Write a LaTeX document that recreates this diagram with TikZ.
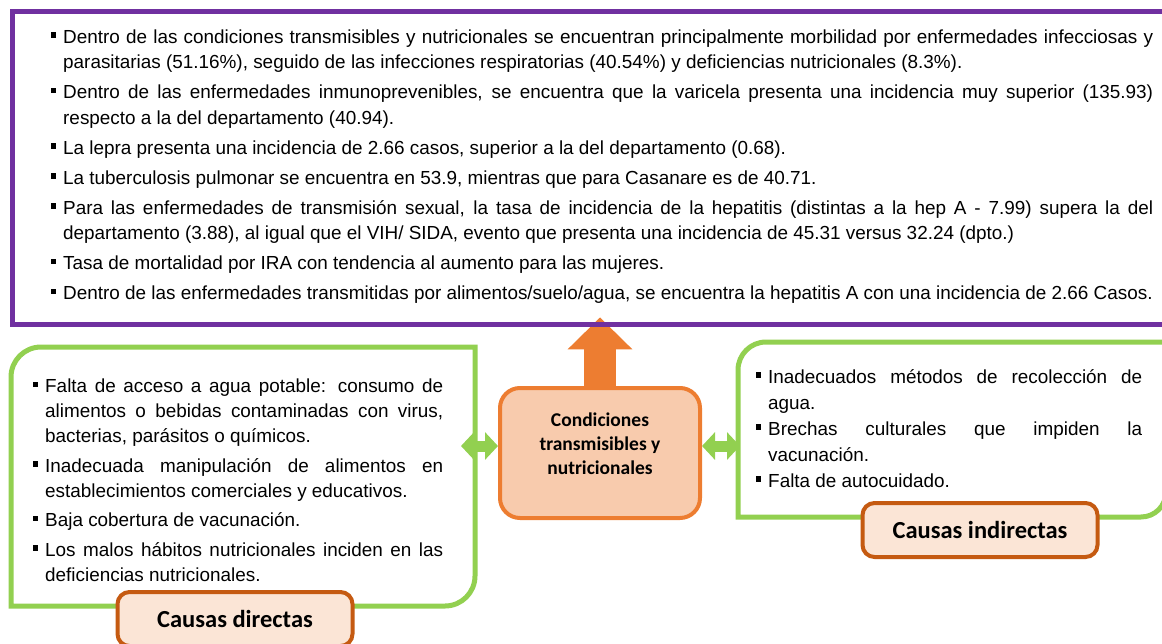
\documentclass[tikz,border=0pt]{standalone}
\usepackage{fontspec}
\setmainfont{Liberation Sans}
\newfontfamily\calibri{Carlito}
\usetikzlibrary{arrows.meta}
\definecolor{morado}{HTML}{7030A0}
\definecolor{verde}{HTML}{92D050}
\definecolor{naranja}{HTML}{ED7D31}
\definecolor{durazno}{HTML}{F8CBAD}
\definecolor{crema}{HTML}{FBE5D6}
\definecolor{ladrillo}{HTML}{C55A11}
\newcommand{\vineta}{\par\noindent\llap{\rule[5.5pt]{5.5pt}{5.5pt}\hspace{7pt}}}
\tikzset{
  texto/.style={anchor=north west, inner sep=0pt, align=justify,
    font=\fontsize{18.9}{25.5}\selectfont,
    execute at begin node={\setlength{\parskip}{4.5pt}\tolerance=9999}},
  etiqueta/.style={draw=ladrillo, line width=4pt, fill=crema, rounded corners=12pt,
    minimum width=235pt, minimum height=54pt,
    font=\calibri\bfseries\fontsize{24.5}{28}\selectfont},
  marco/.style={draw=verde, line width=5pt},
  flechaverde/.style={verde, line width=11pt,
    {Triangle[width=27pt,length=13pt]}-{Triangle[width=27pt,length=13pt]}},
}
\begin{document}
\begin{tikzpicture}[x=1pt,y=1pt]
\useasboundingbox (0,0) rectangle (1162,-643);
\clip (0,0) rectangle (1162,-643);
% recuadro superior
\node[minimum width=1175pt, minimum height=313pt, anchor=north west]
  (hallazgos) at (12,-11) {};
\node[texto, text width=1090pt] (hallazgostxt) at (63,-13) {%
\vineta Dentro de las condiciones transmisibles y nutricionales se encuentran principalmente morbilidad por enfermedades infecciosas y \linebreak parasitarias (51.16\%), seguido de las infecciones respiratorias (40.54\%) y deficiencias nutricionales (8.3\%).
\vineta Dentro de las enfermedades inmunoprevenibles, se encuentra que la varicela presenta una incidencia muy superior (135.93) \linebreak respecto a la del departamento (40.94).
\vineta La lepra presenta una incidencia de 2.66 casos, superior a la del departamento (0.68).
\vineta La tuberculosis pulmonar se encuentra en 53.9, mientras que para Casanare es de 40.71.
\vineta Para las enfermedades de transmisión sexual, la tasa de incidencia de la hepatitis (distintas a la hep A - 7.99) supera la del \linebreak departamento (3.88), al igual que el VIH/ SIDA, evento que presenta una incidencia de 45.31 versus 32.24 (dpto.)
\vineta Tasa de mortalidad por IRA con tendencia al aumento para las mujeres.
\vineta Dentro de las enfermedades transmitidas por alimentos/suelo/agua, se encuentra la hepatitis A con una incidencia de 2.66 Casos.};
% causas directas
\draw[marco] (11,-606) -- (11,-377) arc[start angle=180,end angle=90,radius=30pt]
  -- (475,-347) -- (475,-576) arc[start angle=0,end angle=-90,radius=30pt] -- cycle;
\node[texto, text width=398pt, font=\fontsize{18.9}{25}\selectfont]
  (directastxt) at (45,-363) {%
\vineta Falta de acceso a agua potable: consumo de \linebreak alimentos o bebidas contaminadas con virus, \linebreak bacterias, parásitos o químicos.
\vineta Inadecuada manipulación de alimentos en \linebreak establecimientos comerciales y educativos.
\vineta Baja cobertura de vacunación.
\vineta Los malos hábitos nutricionales inciden en las \linebreak deficiencias nutricionales.};
% causas indirectas
\draw[marco] (738,-517) -- (738,-370) arc[start angle=180,end angle=90,radius=28pt]
  -- (1166,-342) -- (1166,-492) arc[start angle=0,end angle=-90,radius=25pt] -- cycle;
\node[texto, text width=374pt, font=\fontsize{18.9}{26}\selectfont,
  execute at begin node={\setlength{\parskip}{0pt}}]
  (indirectastxt) at (768,-357) {%
\vineta Inadecuados métodos de recolección de \linebreak agua.
\vineta Brechas culturales que impiden la \linebreak vacunación.
\vineta Falta de autocuidado.};
% nodo central
\node[draw=naranja, line width=4pt, fill=durazno, rounded corners=20pt,
  minimum width=200pt, minimum height=130pt,
  label={[yshift=9pt, align=center, font=\calibri\bfseries\fontsize{19.5}{24}\selectfont]center:Condiciones\\transmisibles y\\nutricionales}]
  (cond) at (600,-453) {};
\coordinate (izq) at (461,-446);
\coordinate (der) at (740,-446);
\draw[flechaverde] (izq) -- (cond.west |- izq);
\draw[flechaverde] (cond.east |- der) -- (der);
\draw[naranja, line width=32pt, -{Triangle[width=63pt,length=32pt]}]
  (cond.north) -- ([yshift=7pt]cond.north |- hallazgos.south);
\draw[morado, line width=5pt] (hallazgos.north west) rectangle (hallazgos.south east);
% etiquetas
\node[etiqueta] (directas) at (235,-619) {Causas directas};
\node[etiqueta] (indirectas) at (980,-530) {Causas indirectas};
\end{tikzpicture}
\end{document}
